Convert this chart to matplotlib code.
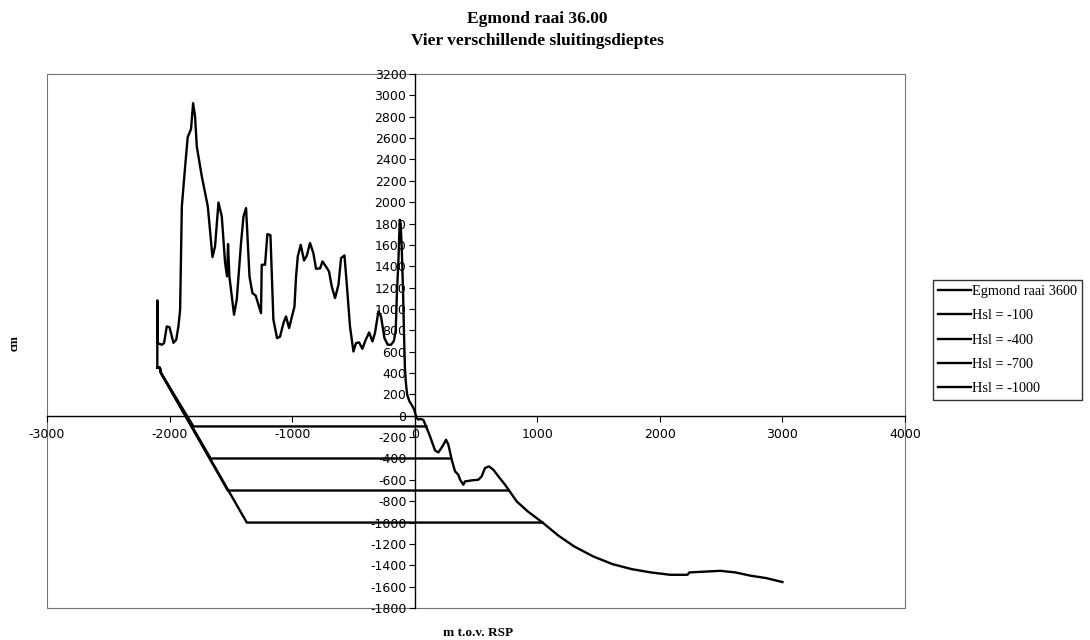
import matplotlib
matplotlib.use("Agg")
import matplotlib.pyplot as plt
from matplotlib.patches import Rectangle

plt.rcParams["axes.unicode_minus"] = False

# -------------------------------------------------
# data
# -------------------------------------------------
prof_x = [-2100, -2100, -2098, -2063, -2045, -2023, -2001, -1968, -1946, -1928,
          -1914, -1900, -1873, -1852, -1825, -1808, -1792, -1778, -1737, -1688,
          -1650, -1629, -1601, -1574, -1547, -1531, -1523, -1512, -1474, -1452,
          -1417, -1397, -1376, -1348, -1324, -1297, -1254, -1248, -1221, -1202,
          -1177, -1153, -1123, -1099, -1071, -1050, -1025, -981, -968, -954,
          -930, -903, -881, -854, -827, -805, -772, -753, -726, -699,
          -677, -650, -622, -601, -573, -555, -528, -500, -479, -454,
          -427, -400, -372, -345, -324, -296, -275, -247, -220, -193,
          -170, -155, -145, -133, -122, -115, -106, -96, -88, -80,
          -73, -62, -45, -24, -5, 5, 15, 30, 50, 71,
          98, 125, 166, 193, 226, 256, 275, 302, 329, 356,
          370, 397, 410, 465, 519, 546, 573, 606, 642, 683,
          737, 766, 832, 923, 1042, 1174, 1300, 1456, 1613, 1770,
          1927, 2084, 2225, 2241, 2397, 2492, 2617, 2742, 2868, 3000]
prof_y = [450, 1080, 680, 665, 680, 836, 830, 683, 711, 836,
          992, 1960, 2334, 2609, 2684, 2927, 2803, 2522, 2241, 1960,
          1486, 1585, 1997, 1866, 1430, 1305, 1608, 1305, 946, 1086,
          1617, 1866, 1944, 1305, 1149, 1124, 961, 1414, 1414, 1701,
          1690, 899, 727, 740, 868, 930, 821, 1023, 1305, 1492,
          1601, 1454, 1498, 1617, 1523, 1376, 1380, 1445, 1400, 1351,
          1211, 1102, 1227, 1476, 1501, 1242, 836, 602, 680, 687,
          627, 711, 780, 696, 777, 977, 930, 727, 665, 665,
          700, 800, 1150, 1450, 1835, 1800, 1580, 1200, 800, 450,
          320, 200, 140, 100, 60, 20, -20, -35, -30, -40,
          -115, -193, -325, -343, -287, -225, -272, -412, -521, -552,
          -599, -646, -615, -605, -599, -568, -490, -474, -506, -568,
          -646, -693, -802, -896, -999, -1124, -1223, -1317, -1389, -1436,
          -1467, -1489, -1489, -1467, -1458, -1452, -1467, -1498, -1520, -1557]

# closure depth lines: common start of the slope, then level from left to right
hsl_levels = [-100, -400, -700, -1000]
hsl_left = [-1805, -1665, -1525, -1370]
hsl_right = [95, 290, 766, 1040]
slope_x = [-2100, -2080, -2070]
slope_y = [450, 450, 400]

labels = ["Egmond raai 3600", "Hsl = -100", "Hsl = -400", "Hsl = -700", "Hsl = -1000"]

x_ticks = list(range(-3000, 4001, 1000))
y_ticks = list(range(-1800, 3201, 200))

# -------------------------------------------------
# figure
# -------------------------------------------------
serif = "Liberation Serif"
fig = plt.figure(figsize=(10.9, 6.4), dpi=100)
ax = fig.add_axes([47 / 1090, 32 / 640, 858 / 1090, 534 / 640])

lines = []
l0, = ax.plot(prof_x, prof_y, color="black", lw=1.7)
lines.append(l0)
for lvl, xl, xr in zip(hsl_levels, hsl_left, hsl_right):
    l, = ax.plot(slope_x + [xl, xr], slope_y + [lvl, lvl], color="black", lw=1.7)
    lines.append(l)

ax.set_xlim(-3000, 4000)
ax.set_ylim(-1800, 3200)
ax.set_xticks(x_ticks)
ax.set_yticks(y_ticks)

# axes crossing at the origin, Excel style
ax.spines["left"].set_position(("data", 0))
ax.spines["bottom"].set_position(("data", 0))
ax.spines["top"].set_visible(False)
ax.spines["right"].set_visible(False)
ax.spines["left"].set_linewidth(1.0)
ax.spines["bottom"].set_linewidth(1.0)
ax.add_patch(Rectangle((0, 0), 1, 1, transform=ax.transAxes, fill=False,
                       ec="0.45", lw=0.8, clip_on=False))

ax.tick_params(axis="x", direction="out", length=4, pad=5, labelsize=9)
ax.tick_params(axis="y", direction="out", length=4, pad=2, labelsize=9)
for t in ax.get_xticklabels() + ax.get_yticklabels():
    t.set_family("DejaVu Sans")

fig.text(537 / 1090, 1 - 19 / 640, "Egmond raai 36.00", ha="center", va="center",
         family=serif, fontweight="bold", fontsize=12.5)
fig.text(537 / 1090, 1 - 41 / 640, "Vier verschillende sluitingsdieptes", ha="center",
         va="center", family=serif, fontweight="bold", fontsize=12.5)
fig.text(15 / 1090, 1 - 343 / 640, "cm", rotation=90, ha="center", va="center",
         family=serif, fontweight="bold", fontsize=9)
fig.text(478 / 1090, 1 - 633 / 640, "m t.o.v. RSP", ha="center", va="center",
         family=serif, fontweight="bold", fontsize=9.5)

leg = fig.legend(lines, labels, loc="center left",
                 bbox_to_anchor=(933 / 1090, 1 - 340 / 640),
                 prop={"family": serif, "size": 10.3}, frameon=True, fancybox=False,
                 handlelength=2.3, handletextpad=0.1, labelspacing=0.8,
                 borderpad=0.35, borderaxespad=0)
leg.get_frame().set_edgecolor("black")
leg.get_frame().set_linewidth(1.0)

fig.savefig("out.png", dpi=100)
